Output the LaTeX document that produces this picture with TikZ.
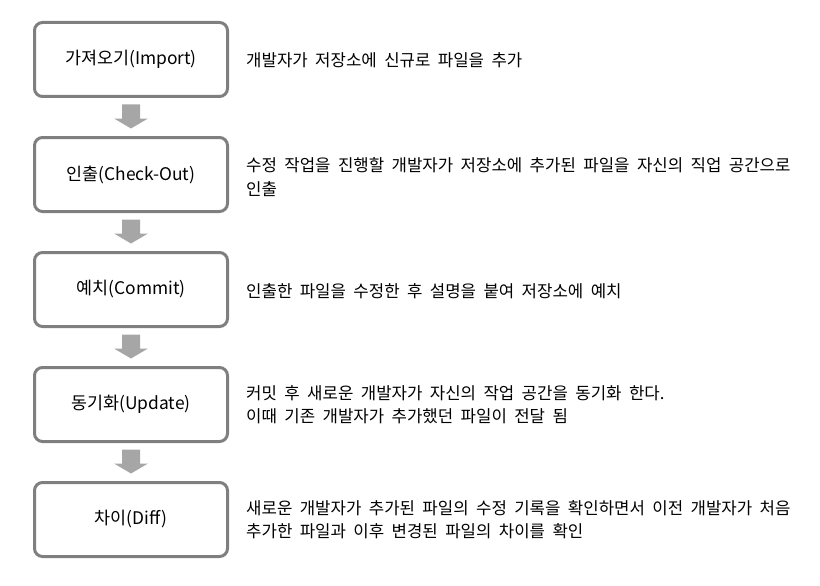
\documentclass[tikz,border=0pt]{standalone}
\usepackage{fontspec}
\setmainfont{Noto Sans CJK KR}
\usetikzlibrary{calc}
\newcommand{\widespaces}{\spaceskip=7.4pt\relax}
\tikzset{
  stepbox/.style={draw=boxgray, line width=3pt, rounded corners=8pt, fill=white,
    minimum width=193pt, minimum height=74pt, inner sep=0pt, font=\fontsize{17.4}{23}\selectfont},
  desc/.style={anchor=west, align=left, inner sep=0pt,
    font=\fontsize{16.75}{23.5}\selectfont, execute at begin node=\widespaces},
  blockarrow/.style={fill=arrowgray, draw=none}
}
\definecolor{boxgray}{HTML}{7F7F7F}
\definecolor{arrowgray}{HTML}{A6A6A6}
\newcommand{\blockarr}[2]{%
  \fill[blockarrow] ($(#1.south)+(-9,-6.5)$) -- ($(#1.south)+(9,-6.5)$) -- ($(#1.south)+(9,-20.5)$)
    -- ($(#1.south)+(17,-20.5)$) -- ($(#2.north)+(0,7.5)$) -- ($(#1.south)+(-17,-20.5)$)
    -- ($(#1.south)+(-9,-20.5)$) -- cycle;}
\begin{document}
\begin{tikzpicture}[x=1pt,y=1pt]
\useasboundingbox (0,0) rectangle (820,-586);
\node[stepbox] (b1) at (131,-59.5) {가져오기(Import)};
\node[stepbox] (b2) at (131,-174.5) {인출(Check-Out)};
\node[stepbox] (b3) at (131,-289.5) {예치(Commit)};
\node[stepbox] (b4) at (131,-404.5) {동기화(Update)};
\node[stepbox] (b5) at (131,-519.5) {차이(Diff)};
\blockarr{b1}{b2}
\blockarr{b2}{b3}
\blockarr{b3}{b4}
\blockarr{b4}{b5}
\node[desc] (t1) at (246,-60.5) {개발자가 저장소에 신규로 파일을 추가};
\node[desc] (t2) at (246,-177) {수정 작업을 진행할 개발자가 저장소에 추가된 파일을 자신의 직업 공간으로\\인출};
\node[desc] (t3) at (246,-291.5) {인출한 파일을 수정한 후 설명을 붙여 저장소에 예치};
\node[desc] (t4) at (246,-404.5) {커밋 후 새로운 개발자가 자신의 작업 공간을 동기화 한다.\\이때 기존 개발자가 추가했던 파일이 전달 됨};
\node[desc] (t5) at (246,-519.5) {새로운 개발자가 추가된 파일의 수정 기록을 확인하면서 이전 개발자가 처음\\추가한 파일과 이후 변경된 파일의 차이를 확인};
\end{tikzpicture}
\end{document}
